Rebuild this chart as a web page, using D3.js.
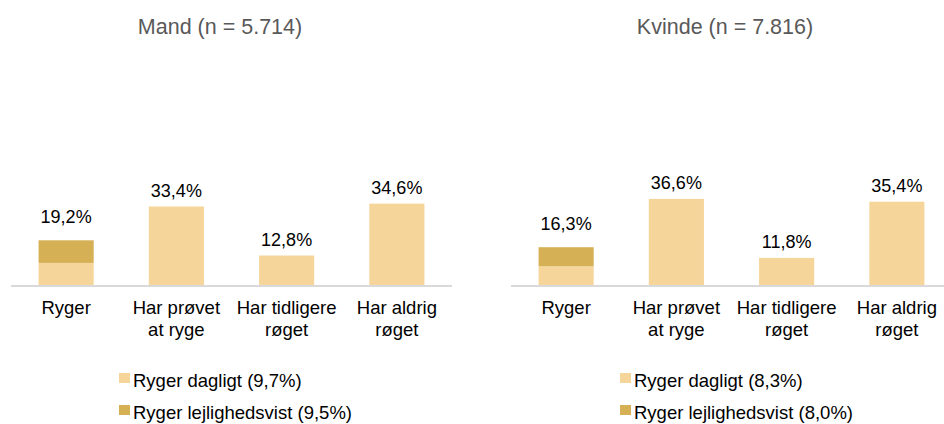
<!DOCTYPE html>
<html>
<head>
<meta charset="utf-8">
<script src="https://cdn.jsdelivr.net/npm/d3@7"></script>
<style>
  body { margin: 0; background: #fff; }
  text { font-family: "Liberation Sans", Arial, sans-serif; }
</style>
</head>
<body>
<div id="chart"></div>
<script>
// data
var categories = ["Ryger", "Har prøvet at ryge", "Har tidligere røget", "Har aldrig røget"];
var categoryLines = [["Ryger"], ["Har prøvet", "at ryge"], ["Har tidligere", "røget"], ["Har aldrig", "røget"]];
var panelTitles = ["Mand (n = 5.714)", "Kvinde (n = 7.816)"];
var mandTotals = [19.2, 33.4, 12.8, 34.6];
var kvindeTotals = [16.3, 36.6, 11.8, 35.4];
var mandDaily = 9.7, mandOccasional = 9.5;
var kvindeDaily = 8.3, kvindeOccasional = 8.0;
var seriesNames = ["Ryger dagligt", "Ryger lejlighedsvist"];

var lightColor = "#F5D599";
var darkColor = "#D6B055";

var svgWidth = 944, svgHeight = 424;
var svg = d3.select("#chart").append("svg")
  .attr("width", svgWidth)
  .attr("height", svgHeight);

var baseY = 286;
var yScale = d3.scaleLinear().domain([0, 40]).range([baseY, baseY - 95.2]);

var panels = [
  { title: panelTitles[0], totals: mandTotals, daily: mandDaily, occ: mandOccasional,
    x0: 11, x1: 452, titleX: 220, legendX: 119 },
  { title: panelTitles[1], totals: kvindeTotals, daily: kvindeDaily, occ: kvindeOccasional,
    x0: 511, x1: 952, titleX: 725, legendX: 620 }
];

panels.forEach(function(p) {
  var g = svg.append("g");
  var x = d3.scaleBand().domain(categories).range([p.x0, p.x1])
    .paddingInner(0.5).paddingOuter(0.25);

  // title
  g.append("text")
    .attr("x", p.titleX).attr("y", 34)
    .attr("text-anchor", "middle")
    .style("font-size", "21.5px")
    .attr("fill", "#595959")
    .text(p.title);

  // segments: first category is stacked daily + occasional
  var segs = [];
  categories.forEach(function(c, i) {
    if (i === 0) {
      segs.push({ cat: c, y0: 0, y1: p.daily, color: lightColor });
      segs.push({ cat: c, y0: p.daily, y1: p.daily + p.occ, color: darkColor });
    } else {
      segs.push({ cat: c, y0: 0, y1: p.totals[i], color: lightColor });
    }
  });

  g.selectAll("rect.bar")
    .data(segs)
    .enter()
    .append("rect")
    .attr("class", "bar")
    .attr("x", function(d) { return x(d.cat); })
    .attr("width", x.bandwidth())
    .attr("y", function(d) { return yScale(d.y1); })
    .attr("height", function(d) { return yScale(d.y0) - yScale(d.y1); })
    .attr("fill", function(d) { return d.color; });

  // baseline
  g.append("line")
    .attr("x1", p.x0).attr("x2", p.x1)
    .attr("y1", baseY).attr("y2", baseY)
    .attr("stroke", "#D9D9D9").attr("stroke-width", 2);

  // value labels
  g.selectAll("text.val")
    .data(p.totals)
    .enter()
    .append("text")
    .attr("class", "val")
    .attr("x", function(d, i) { return x(categories[i]) + x.bandwidth() / 2; })
    .attr("y", function(d, i) { return yScale(d) - (i === 0 ? 17 : 10); })
    .attr("text-anchor", "middle")
    .style("font-size", "18px")
    .attr("fill", "#000")
    .text(function(d) { return d.toFixed(1).replace(".", ",") + "%"; });

  // category labels
  var cl = g.selectAll("text.cat")
    .data(categories)
    .enter()
    .append("text")
    .attr("class", "cat")
    .attr("text-anchor", "middle")
    .style("font-size", "18.5px")
    .attr("fill", "#000");
  cl.selectAll("tspan")
    .data(function(d, i) {
      return categoryLines[i].map(function(t) { return { t: t, cx: x(d) + x.bandwidth() / 2 }; });
    })
    .enter()
    .append("tspan")
    .attr("x", function(d) { return d.cx; })
    .attr("y", function(d, j) { return 314 + j * 22; })
    .text(function(d) { return d.t; });

  // legend
  var legendItems = [
    { name: seriesNames[0] + " (" + p.daily.toFixed(1).replace(".", ",") + "%)", color: lightColor },
    { name: seriesNames[1] + " (" + p.occ.toFixed(1).replace(".", ",") + "%)", color: darkColor }
  ];
  var lg = g.selectAll("g.leg")
    .data(legendItems)
    .enter()
    .append("g")
    .attr("transform", function(d, i) { return "translate(" + p.legendX + "," + (373 + i * 32) + ")"; });
  lg.append("rect")
    .attr("width", 11).attr("height", 10)
    .attr("fill", function(d) { return d.color; });
  lg.append("text")
    .attr("x", 14).attr("y", 13.5)
    .style("font-size", "18.5px")
    .attr("fill", "#000")
    .text(function(d) { return d.name; });
});
</script>
</body>
</html>
